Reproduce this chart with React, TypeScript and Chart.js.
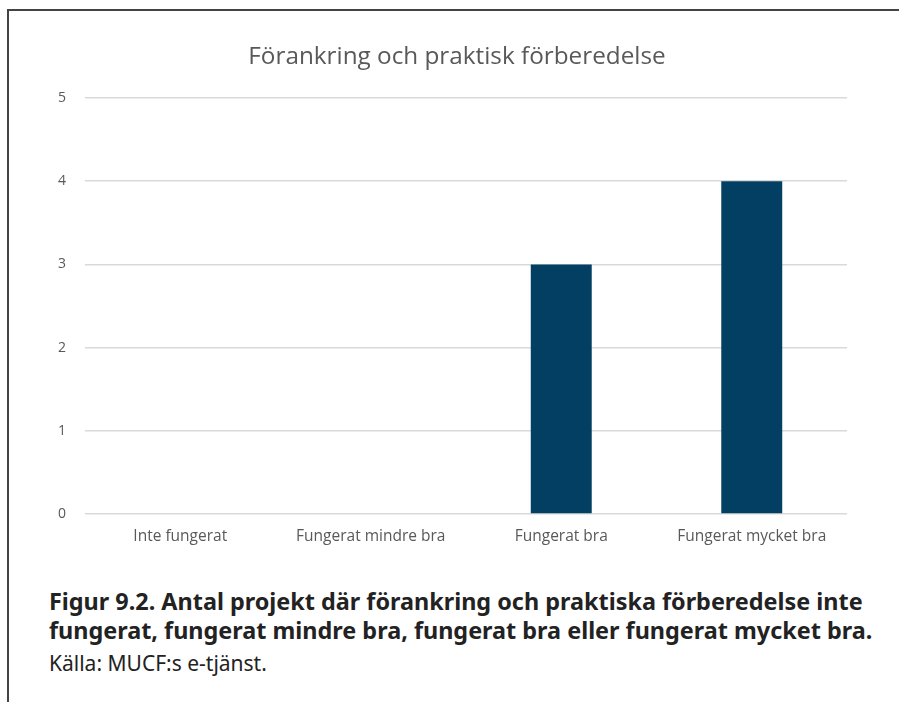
import React, { useEffect, useRef } from "react";
import { Chart, registerables } from "chart.js";

Chart.register(...registerables);

const categories = ["Inte fungerat", "Fungerat mindre bra", "Fungerat bra", "Fungerat mycket bra"];
const values = [0, 0, 3, 4];
const yTicks = [0, 1, 2, 3, 4, 5];
const chartTitle = "Förankring och praktisk förberedelse";
const captionLines = [
  "Figur 9.2. Antal projekt där förankring och praktiska förberedelse inte",
  "fungerat, fungerat mindre bra, fungerat bra eller fungerat mycket bra.",
];
const sourceText = "Källa: MUCF:s e-tjänst.";

const centeredTitle = {
  id: "centeredTitle",
  afterDraw(chart: any) {
    const ctx = chart.ctx;
    ctx.save();
    ctx.font = "normal 24.3px 'Open Sans'";
    ctx.fillStyle = "#595959";
    ctx.textAlign = "center";
    ctx.textBaseline = "middle";
    ctx.fillText(chartTitle, 457, 57.4);
    ctx.restore();
  },
};

export default function App() {
  const canvasRef = useRef<HTMLCanvasElement | null>(null);

  useEffect(() => {
    document.body.style.margin = "0";
    const ctx = canvasRef.current;
    if (!ctx) return;
    const chart = new Chart(ctx, {
      type: "bar",
      data: {
        labels: categories,
        datasets: [
          {
            data: values,
            backgroundColor: "#023f62",
            borderWidth: 0,
            categoryPercentage: 1,
            barPercentage: 0.32,
          },
        ],
      },
      plugins: [centeredTitle],
      options: {
        animation: false,
        responsive: false,
        maintainAspectRatio: false,
        layout: { padding: { left: 0, right: 52, top: 98, bottom: 0 } },
        plugins: {
          legend: { display: false },
          tooltip: { enabled: false },
          title: { display: false },
        },
        scales: {
          x: {
            grid: { display: false, drawTicks: false },
            border: { display: false },
            ticks: {
              color: "#595959",
              font: { family: "'Open Sans'", size: 15.5 },
              padding: 13,
              maxRotation: 0,
              autoSkip: false,
            },
            afterFit: (scale: any) => {
              scale.height = 56;
            },
          },
          y: {
            min: 0,
            max: 5,
            afterBuildTicks: (scale: any) => {
              scale.ticks = yTicks.map((v) => ({ value: v }));
            },
            grid: { color: "#d9d9d9", lineWidth: 1.5, drawTicks: false },
            border: { display: false },
            ticks: {
              color: "#595959",
              font: { family: "'Open Sans'", size: 14 },
              padding: 19,
            },
            afterFit: (scale: any) => {
              scale.width = 85;
            },
          },
        },
      },
    });
    return () => chart.destroy();
  }, []);

  return (
    <div style={{ position: "relative", width: 899, height: 702, overflow: "hidden", background: "#fff" }}>
      <div
        style={{
          position: "absolute",
          left: 7,
          top: 9,
          right: 0,
          bottom: 0,
          borderTop: "2px solid #444",
          borderLeft: "2px solid #444",
        }}
      />
      <canvas
        ref={canvasRef}
        width={899}
        height={570}
        style={{ position: "absolute", left: 0, top: 0, width: 899, height: 570 }}
      />
      <div
        style={{
          position: "absolute",
          left: 49,
          top: 587,
          fontFamily: "'Noto Sans'",
          color: "#222",
        }}
      >
        <div style={{ fontWeight: 700, fontSize: 23.4, lineHeight: "29px", whiteSpace: "nowrap" }}>
          {captionLines.map((l, i) => (
            <div key={i}>{l}</div>
          ))}
        </div>
        <div style={{ fontSize: 21, lineHeight: "37px", whiteSpace: "nowrap" }}>{sourceText}</div>
      </div>
    </div>
  );
}
